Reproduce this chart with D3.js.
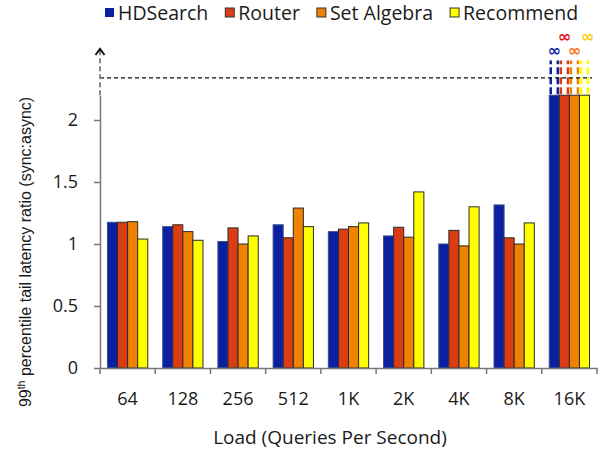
<!DOCTYPE html>
<html>
<head>
<meta charset="utf-8">
<script src="https://cdn.jsdelivr.net/npm/d3@7"></script>
<style>
  body { margin: 0; background: #fff; }
  svg { display: block; }
</style>
</head>
<body>
<div id="chart"></div>
<script>
// Data

const loads = ['64', '128', '256', '512', '1K', '2K', '4K', '8K', '16K']
const series = ['HDSearch', 'Router', 'Set Algebra', 'Recommend']
const hdsearch = [1.175, 1.14, 1.02, 1.155, 1.10, 1.065, 1.00, 1.315, Infinity]
const router = [1.175, 1.155, 1.13, 1.05, 1.12, 1.135, 1.11, 1.05, Infinity]
const setAlgebra = [1.18, 1.10, 1.00, 1.29, 1.14, 1.055, 0.985, 1.00, Infinity]
const recommend = [1.04, 1.03, 1.065, 1.14, 1.17, 1.42, 1.30, 1.17, Infinity]
const yTicks = [0, 0.5, 1, 1.5, 2]
const axisBreak = 2.2 // solid axis / bar cut-off
const infLevel = 2.34 // dashed "infinity" marker line

const values = [hdsearch, router, setAlgebra, recommend]
const colors = ['#0a20a0', '#dc3c14', '#ef8200', '#ffff00']
const infColors = ['#1424a8', '#e41010', '#ff7020', '#ffcc10']

const W = 601
const H = 451
const M = { left: 100, right: 4, top: 95, bottom: 83 }

const svg = d3.select('#chart').append('svg').attr('width', W).attr('height', H)

// Scales

const x0 = d3.scaleBand().domain(loads).range([M.left, 597]).padding(0)
const bw = x0.bandwidth()
const x1 = d3.scaleBand().domain(series).range([bw * 0.135, bw * 0.865]).padding(0)
const y = d3.scaleLinear().domain([0, axisBreak]).range([368, 368 - axisBreak * 124])

const FONT = '"Open Sans", sans-serif'

// Bars

const groups = svg.append('g')
  .selectAll('g')
  .data(loads)
  .join('g')
  .attr('transform', d => `translate(${x0(d)},0)`)

groups.selectAll('rect')
  .data((d, i) => series.map((s, k) => ({ s, k, v: values[k][i] })))
  .join('rect')
  .attr('x', d => x1(d.s))
  .attr('y', d => y(Math.min(d.v, axisBreak)))
  .attr('width', x1.bandwidth())
  .attr('height', d => y(0) - y(Math.min(d.v, axisBreak)))
  .attr('fill', d => colors[d.k])
  .attr('stroke', d => d.k === 0 ? '#3a4f8f' : '#2a2a2a')
  .attr('stroke-width', 1)

// Infinite bars: dashed continuation + infinity sign

const infBars = []
loads.forEach((l, i) => series.forEach((s, k) => {
  if (!isFinite(values[k][i])) infBars.push({ l, s, k })
}))

const infG = svg.append('g')
infBars.forEach(d => {
  const bx = x0(d.l) + x1(d.s)
  ;[bx + 1.5, bx + x1.bandwidth() - 1.5].forEach(lx => {
    infG.append('line')
      .attr('x1', lx).attr('x2', lx)
      .attr('y1', y(axisBreak) - 1).attr('y2', y(2.48))
      .attr('stroke', colors[d.k])
      .attr('stroke-width', 2.5)
      .attr('stroke-dasharray', '7,3')
  })
  infG.append('text')
    .attr('x', bx + x1.bandwidth() / 2 + (d.k === 3 ? 3 : 0))
    .attr('y', d.k % 2 === 0 ? 50 : 36)
    .attr('text-anchor', 'middle')
    .attr('dominant-baseline', 'central')
    .attr('font-family', '"DejaVu Sans", sans-serif')
    .attr('font-weight', 'bold')
    .attr('font-size', 16)
    .attr('fill', infColors[d.k])
    .text('\u221e')
})

// Infinity level line

svg.append('line')
  .attr('x1', M.left).attr('x2', 592)
  .attr('y1', y(infLevel)).attr('y2', y(infLevel))
  .attr('stroke', '#111')
  .attr('stroke-width', 1.3)
  .attr('stroke-dasharray', '4,3')

// Y axis

const yAxis = svg.append('g')
  .attr('transform', `translate(${M.left},0)`)
  .call(d3.axisLeft(y).tickValues(yTicks).tickFormat(d => String(d)).tickSize(6).tickPadding(16).tickSizeOuter(0))

yAxis.select('.domain').attr('stroke', '#777').attr('stroke-width', 1.5)
yAxis.selectAll('.tick line').attr('stroke', '#777').attr('stroke-width', 1.5)
yAxis.selectAll('.tick text')
  .attr('font-family', FONT).attr('font-size', 18).attr('fill', '#1a1a1a')

svg.append('line')
  .attr('x1', M.left).attr('x2', M.left)
  .attr('y1', y(axisBreak)).attr('y2', 50)
  .attr('stroke', '#888')
  .attr('stroke-width', 2)
  .attr('stroke-dasharray', '5,3')

svg.append('path')
  .attr('d', `M${M.left - 4.5},55 L${M.left},49 L${M.left + 4.5},55`)
  .attr('fill', 'none')
  .attr('stroke', '#111')
  .attr('stroke-width', 2)

// X axis

const xAxis = svg.append('g')
  .attr('transform', `translate(0,${y(0)})`)
  .call(d3.axisBottom(x0).tickSize(0).tickPadding(24).tickSizeOuter(0))

xAxis.select('.domain').attr('stroke', '#777').attr('stroke-width', 1.5)
xAxis.selectAll('.tick text')
  .attr('font-family', FONT).attr('font-size', 18).attr('fill', '#1a1a1a')

xAxis.selectAll('.sep')
  .data(loads.map(l => x0(l)).concat([x0.range()[1]]))
  .join('line')
  .attr('class', 'sep')
  .attr('x1', d => d).attr('x2', d => d)
  .attr('y1', 0).attr('y2', 6)
  .attr('stroke', '#777')
  .attr('stroke-width', 1.5)

// Titles

svg.append('text')
  .attr('x', 330)
  .attr('y', 444)
  .attr('text-anchor', 'middle')
  .attr('font-family', FONT)
  .attr('font-size', 19)
  .attr('fill', '#1a1a1a')
  .text('Load (Queries Per Second)')

const yTitle = svg.append('text')
  .attr('transform', 'translate(31,252) rotate(-90)')
  .attr('text-anchor', 'middle')
  .attr('font-family', '"Liberation Sans", Arial, sans-serif')
  .attr('font-size', 16)
  .attr('fill', '#1a1a1a')

yTitle.append('tspan').text('99')
yTitle.append('tspan').attr('font-size', 10.5).attr('dy', -6).text('th')
yTitle.append('tspan').attr('dy', 6).text(' percentile tail latency ratio (sync:async)')

// Legend

const legend = svg.append('g')
let lx = 105
series.forEach((s, k) => {
  legend.append('rect')
    .attr('x', lx).attr('y', 8)
    .attr('width', 9).attr('height', 9)
    .attr('fill', colors[k])
    .attr('stroke', k === 0 ? 'none' : '#333')
    .attr('stroke-width', 1)
  const t = legend.append('text')
    .attr('x', lx + 13)
    .attr('y', 19.5)
    .attr('font-family', FONT)
    .attr('font-size', 19.5)
    .attr('fill', '#1a1a1a')
    .text(s)
  lx += 13 + t.node().getComputedTextLength() + 17
})
</script>
</body>
</html>
